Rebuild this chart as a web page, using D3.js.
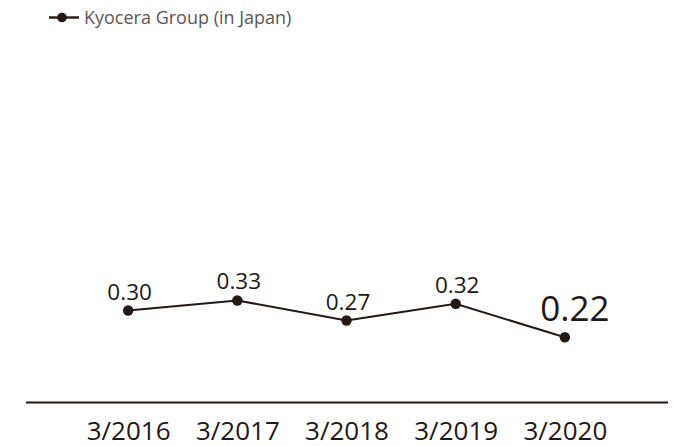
<!DOCTYPE html>
<html><head><meta charset="utf-8">
<script src="https://cdn.jsdelivr.net/npm/d3@7"></script>
<style>html,body{margin:0;padding:0;background:#fff;}svg{display:block;font-family:"Open Sans","Noto Sans",sans-serif;}</style>
</head><body><svg id="c" width="693" height="446"></svg>
<script>
const categories = ["3/2016","3/2017","3/2018","3/2019","3/2020"];
const values = [0.30, 0.33, 0.27, 0.32, 0.22];
const valueLabels = ["0.30","0.33","0.27","0.32","0.22"];
const seriesName = "Kyocera Group (in Japan)";

const ink = "#231815";
const svg = d3.select("#c");
const x = d3.scalePoint().domain(categories).range([25.5, 667.5]).padding(0.94);
const y = d3.scaleLinear().domain([0, 1]).range([411, 76]);

// axis
const axis = d3.axisBottom(x).tickSize(0).tickPadding(0).tickSizeOuter(0);
const gx = svg.append("g").attr("transform", "translate(0,402)").call(axis);
gx.select(".domain").attr("stroke", ink).attr("stroke-width", 2.2);
gx.selectAll(".tick text").attr("font-size", 26).attr("fill", ink)
  .attr("font-family", '"Open Sans","Noto Sans",sans-serif')
  .attr("dy", null).attr("y", 37.5);

// line
const line = d3.line().x((d,i)=>x(categories[i])).y(d=>y(d));
svg.append("path").datum(values).attr("d", line).attr("fill","none")
  .attr("stroke", ink).attr("stroke-width", 2);
svg.selectAll("circle.pt").data(values).enter().append("circle")
  .attr("class","pt").attr("cx",(d,i)=>x(categories[i])).attr("cy",d=>y(d))
  .attr("r",5.2).attr("fill",ink);

// value labels
svg.selectAll("text.vl").data(values).enter().append("text")
  .attr("class","vl")
  .attr("x",(d,i)=>x(categories[i]) + (i===4 ? 10 : 1.5))
  .attr("y",(d,i)=>y(d) - (i===4 ? 16.5 : 11))
  .attr("text-anchor","middle")
  .attr("font-size",(d,i)=> i===4 ? 35 : 22.5)
  .attr("fill", ink)
  .text((d,i)=>valueLabels[i]);

// legend
const lg = svg.append("g");
lg.append("line").attr("x1",49).attr("x2",79).attr("y1",17.5).attr("y2",17.5)
  .attr("stroke", ink).attr("stroke-width",2.4);
lg.append("circle").attr("cx",62).attr("cy",17.5).attr("r",4.8).attr("fill",ink);
lg.append("text").attr("x",84).attr("y",24).attr("font-size",18)
  .attr("fill","#5a5757").text(seriesName);
</script></body></html>
